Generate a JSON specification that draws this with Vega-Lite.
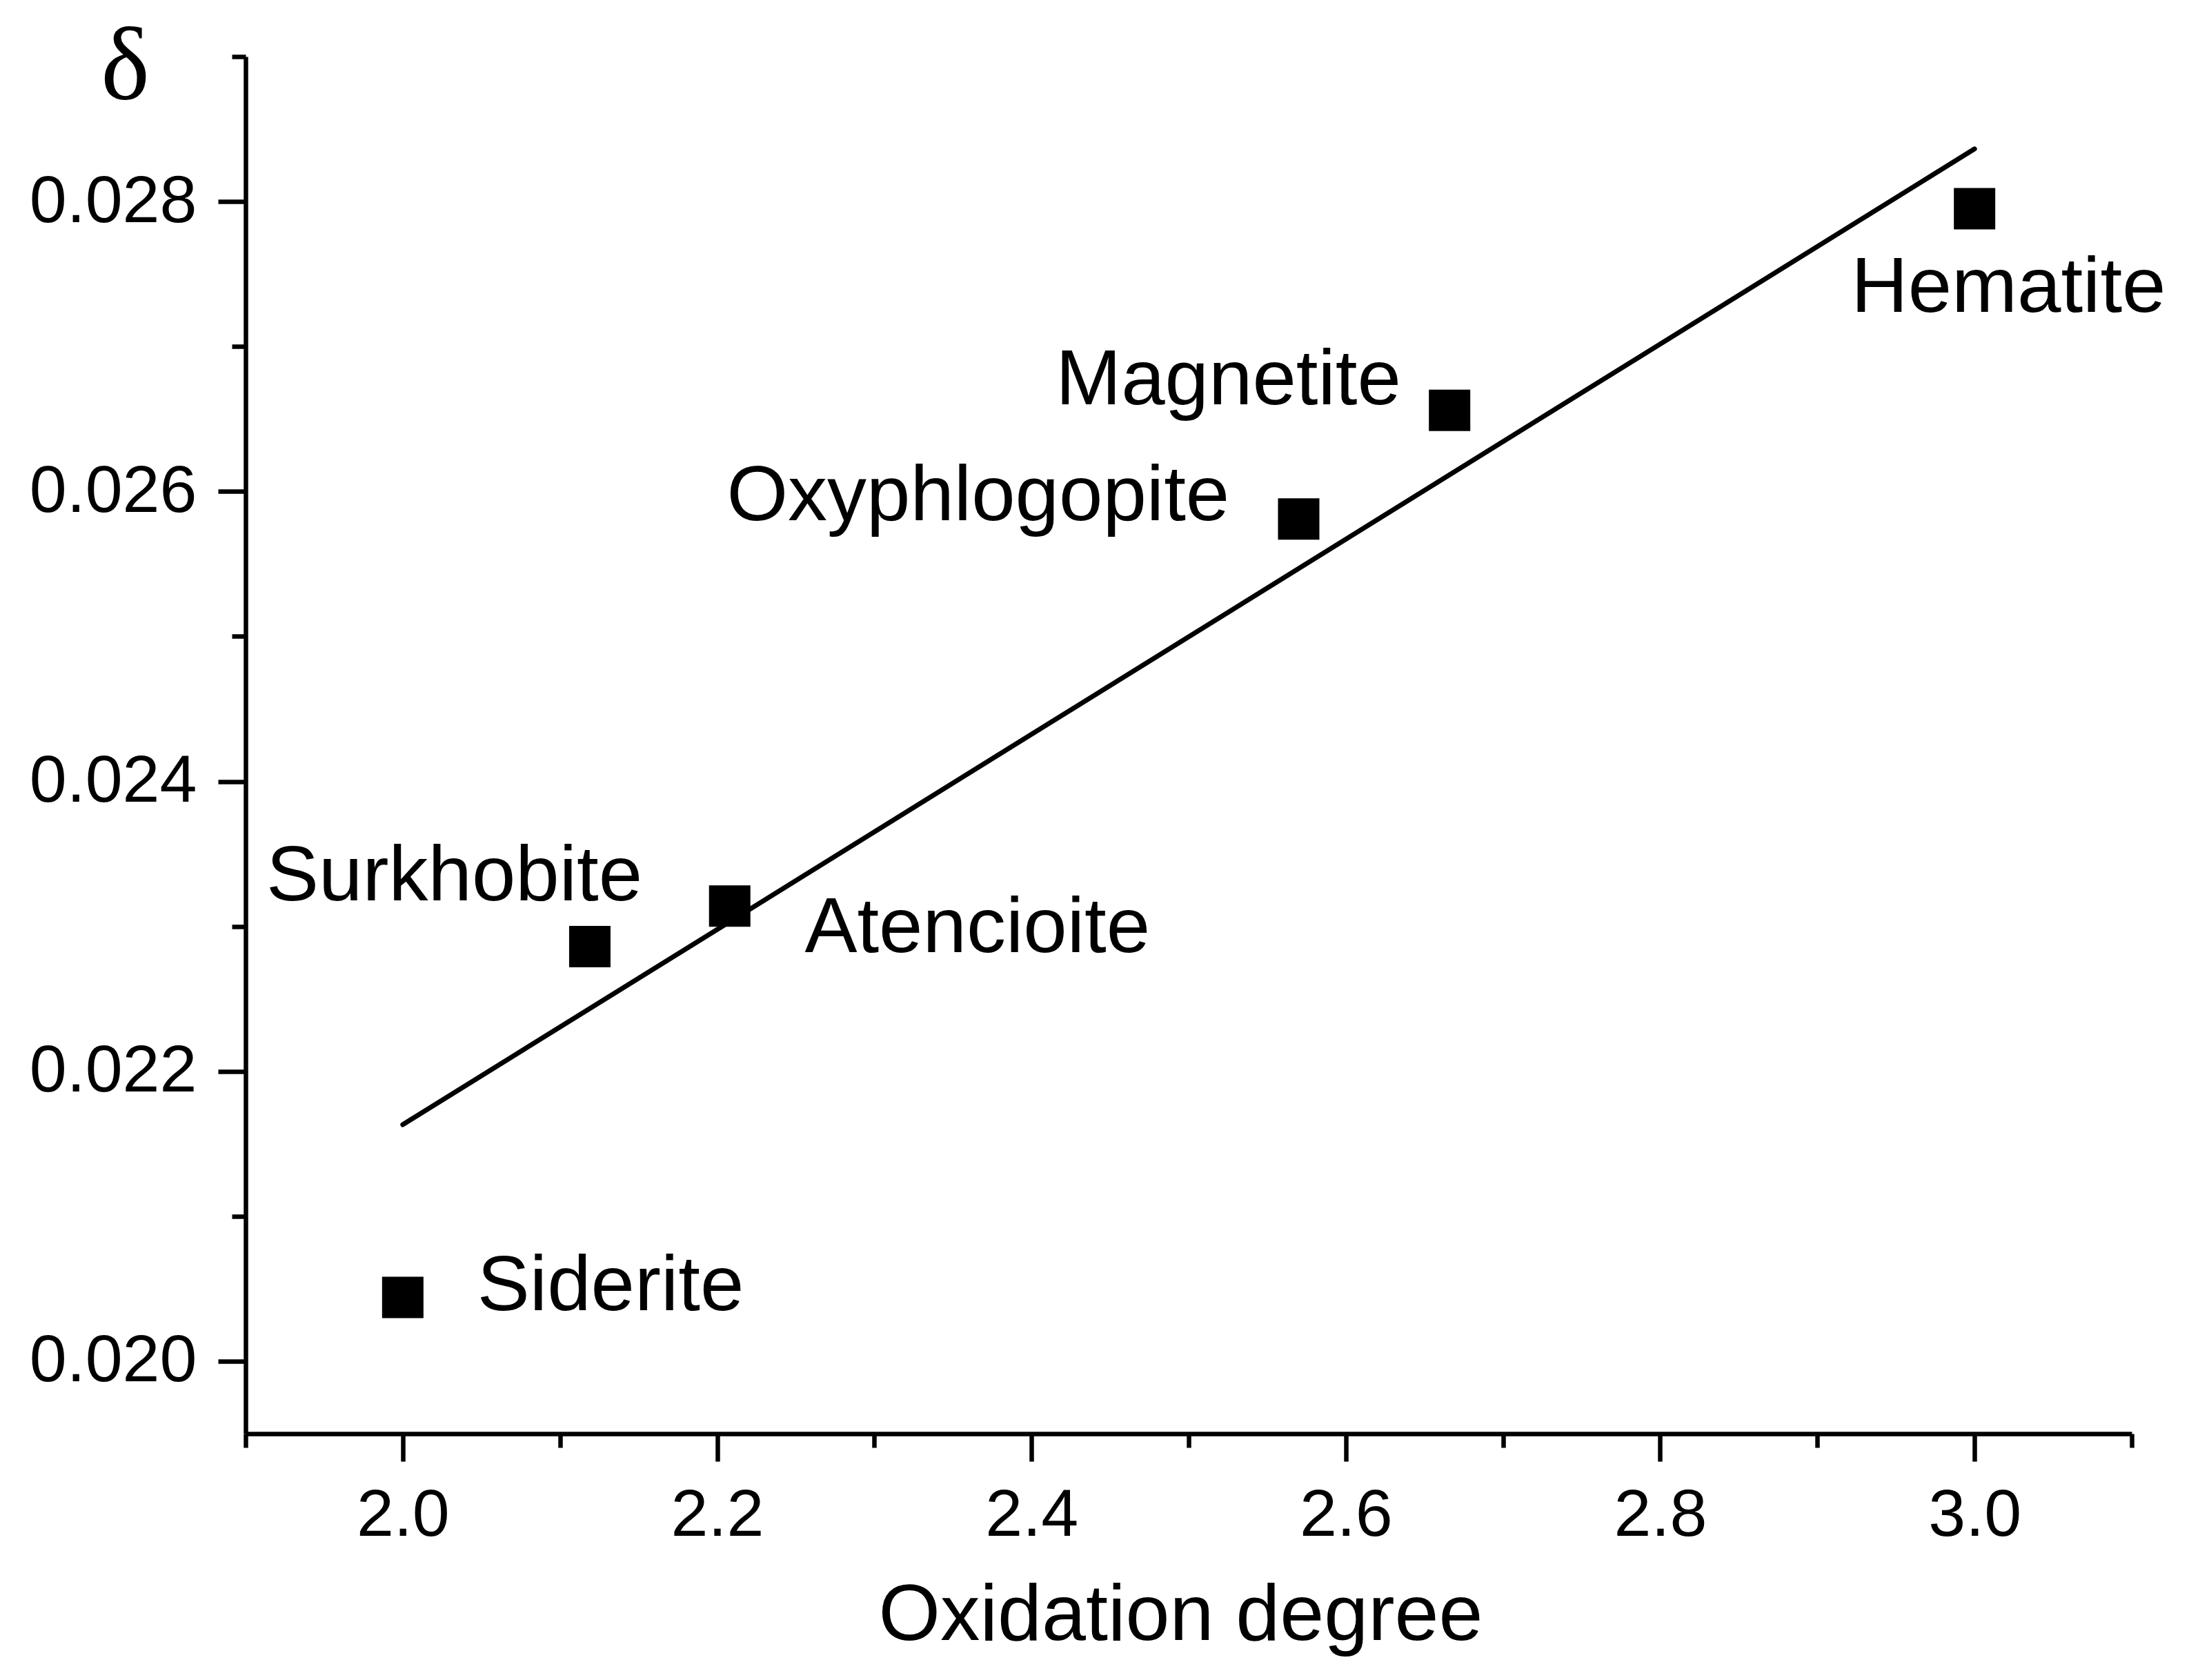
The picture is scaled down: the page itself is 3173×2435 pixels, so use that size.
{
  "$schema": "https://vega.github.io/schema/vega-lite/v6.json",
  "autosize": {"type": "none"},
  "width": 2734,
  "height": 1996,
  "padding": {"left": 356, "top": 82, "right": 83, "bottom": 357},
  "background": "white",
  "config": {
    "view": {"stroke": null},
    "font": "Liberation Sans",
    "axis": {
      "domainColor": "black",
      "domainWidth": 6.5,
      "tickColor": "black",
      "tickWidth": 6.5,
      "labelColor": "black",
      "labelFont": "Liberation Sans",
      "labelFontSize": 97,
      "labelLimit": 0,
      "titleColor": "black",
      "titleFontWeight": "normal",
      "grid": false
    }
  },
  "datasets": {
    "minerals": [
      {"mineral": "Siderite", "ox": 2.0, "delta": 0.02044, "lx": 2.0474, "ly": 0.02035},
      {"mineral": "Surkhobite", "ox": 2.119, "delta": 0.02286, "lx": 1.9132, "ly": 0.02318},
      {"mineral": "Atencioite", "ox": 2.208, "delta": 0.02314, "lx": 2.2557, "ly": 0.02282},
      {"mineral": "Oxyphlogopite", "ox": 2.57, "delta": 0.02581, "lx": 2.2061, "ly": 0.0258},
      {"mineral": "Magnetite", "ox": 2.666, "delta": 0.02656, "lx": 2.4154, "ly": 0.0266},
      {"mineral": "Hematite", "ox": 3.0, "delta": 0.02795, "lx": 2.9215, "ly": 0.02724}
    ],
    "fit": [
      {"ox": 2.0, "delta": 0.021632},
      {"ox": 3.0, "delta": 0.028363}
    ]
  },
  "resolve": {"axis": {"x": "independent", "y": "independent"}},
  "layer": [
    {
      "data": {"name": "fit"},
      "mark": {"type": "line", "color": "black", "strokeWidth": 7, "strokeCap": "round"},
      "encoding": {
        "x": {
          "field": "ox", "type": "quantitative",
          "scale": {"domain": [1.9, 3.1], "nice": false, "zero": false},
          "axis": {
            "orient": "bottom",
            "values": [2.0, 2.2, 2.4, 2.6, 2.8, 3.0],
            "format": ".1f",
            "tickSize": 40,
            "labelPadding": 30,
            "title": "Oxidation degree",
            "titleFontSize": 115,
            "titleX": 1355,
            "titleY": 298,
            "titleAlign": "center",
            "titleBaseline": "alphabetic"
          }
        },
        "y": {
          "field": "delta", "type": "quantitative",
          "scale": {"domain": [0.0195, 0.029], "nice": false, "zero": false},
          "axis": {
            "orient": "left",
            "values": [0.020, 0.022, 0.024, 0.026, 0.028],
            "format": ".3f",
            "tickSize": 40,
            "labelPadding": 31,
            "title": "δ",
            "titleFont": "Liberation Serif",
            "titleFontSize": 150,
            "titleAngle": 0,
            "titleX": -175,
            "titleY": 61,
            "titleAlign": "center",
            "titleBaseline": "alphabetic"
          }
        }
      }
    },
    {
      "data": {"name": "minerals"},
      "mark": {"type": "point", "opacity": 0},
      "encoding": {
        "x": {
          "field": "ox", "type": "quantitative",
          "axis": {
            "orient": "bottom",
            "values": [1.9, 2.1, 2.3, 2.5, 2.7, 2.9, 3.1],
            "tickSize": 20,
            "labels": false,
            "domain": false,
            "title": null
          }
        },
        "y": {
          "field": "delta", "type": "quantitative",
          "axis": {
            "orient": "left",
            "values": [0.021, 0.023, 0.025, 0.027, 0.029],
            "tickSize": 20,
            "labels": false,
            "domain": false,
            "title": null
          }
        }
      }
    },
    {
      "data": {"name": "minerals"},
      "mark": {"type": "point", "shape": "square", "filled": true, "color": "black", "opacity": 1, "size": 3600},
      "encoding": {
        "x": {"field": "ox", "type": "quantitative", "axis": null},
        "y": {"field": "delta", "type": "quantitative", "axis": null}
      }
    },
    {
      "data": {"name": "minerals"},
      "mark": {"type": "text", "align": "left", "baseline": "alphabetic", "fontSize": 114, "font": "Liberation Sans", "color": "black"},
      "encoding": {
        "x": {"field": "lx", "type": "quantitative", "axis": null},
        "y": {"field": "ly", "type": "quantitative", "axis": null},
        "text": {"field": "mineral"}
      }
    }
  ]
}
